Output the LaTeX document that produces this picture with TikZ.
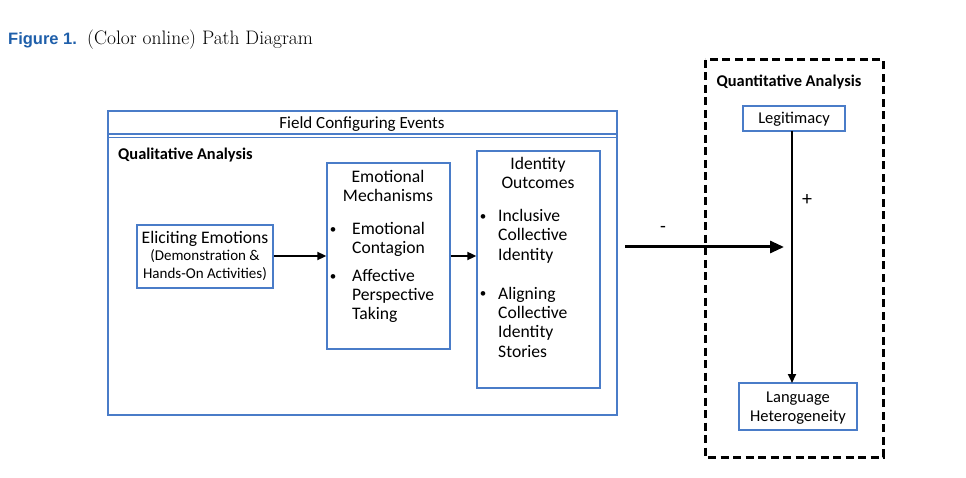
\documentclass[tikz,border=0pt]{standalone}
\usepackage{fontspec}
\setmainfont{Carlito}
\newfontfamily\headsans{Liberation Sans}
\newfontfamily\capserif{Latin Modern Roman}
\usetikzlibrary{arrows.meta}
\definecolor{boxblue}{HTML}{4A7CC8}
\definecolor{figblue}{HTML}{1F5FAA}
\tikzset{
  bbox/.style={draw=boxblue,line width=1.4pt,inner sep=0pt},
  txt/.style={inner sep=0pt,font=\fontsize{17.6}{19}\selectfont},
  small/.style={inner sep=0pt,font=\fontsize{15}{17}\selectfont},
  bld/.style={inner sep=0pt,font=\fontsize{16.4}{19}\selectfont\bfseries},
  bul/.style={inner sep=0pt,font=\fontsize{13}{15}\selectfont},
  arr/.style={line width=2pt,-{Triangle[length=9pt,width=8pt]}},
  bigarr/.style={line width=3pt,-{Triangle[length=14pt,width=12pt]}},
}
\begin{document}
\begin{tikzpicture}[x=1pt,y=-1pt]
\useasboundingbox (0,0) rectangle (966,478);
% title
\node[inner sep=0pt,anchor=base west,font=\fontsize{16.5}{19}\headsans\bfseries,text=figblue] (fig) at (8,45) {Figure 1.};
\node[inner sep=0pt,anchor=base west,font=\fontsize{19.5}{21}\capserif] (cap) at (87,45) {(Color online) Path Diagram};
% outer box
\draw[draw=boxblue,line width=1.4pt] (108,111) rectangle (617,415);
\draw[draw=boxblue,line width=1.2pt] (108,134) -- (617,134);
\draw[draw=boxblue,line width=1.2pt] (108,137.5) -- (617,137.5);
\node[txt,anchor=base,font=\fontsize{17}{19}\selectfont] (fce) at (362,129) {Field Configuring Events};
\node[bld,anchor=base west] (qual) at (118,160) {Qualitative Analysis};
% eliciting
\node[bbox,minimum width=136pt,minimum height=63pt] (elic) at (205,256.5) {};
\node[txt,anchor=base] (e1) at (205,244) {Eliciting Emotions};
\node[small,anchor=base] (e2) at (205,260.5) {(Demonstration \&};
\node[small,anchor=base] (e3) at (205,278.5) {Hands-On Activities)};
% emotional mechanisms
\node[bbox,minimum width=123pt,minimum height=186pt] (emo) at (388.5,256) {};
\node[txt,anchor=base] (m1) at (388,182.5) {Emotional};
\node[txt,anchor=base] (m2) at (388,202) {Mechanisms};
\node[bul,anchor=base] (mb1) at (333,234) {\textbullet};
\node[txt,anchor=base west] (m3) at (352,235) {Emotional};
\node[txt,anchor=base west] (m4) at (352,254) {Contagion};
\node[bul,anchor=base] (mb2) at (333,280) {\textbullet};
\node[txt,anchor=base west] (m5) at (352,281) {Affective};
\node[txt,anchor=base west] (m6) at (352,300.5) {Perspective};
\node[txt,anchor=base west] (m7) at (352,319) {Taking};
% identity outcomes
\node[bbox,minimum width=123pt,minimum height=237pt] (ido) at (538.5,269.5) {};
\node[txt,anchor=base] (i1) at (538,169.5) {Identity};
\node[txt,anchor=base] (i2) at (538,189) {Outcomes};
\node[bul,anchor=base] (ib1) at (483,221) {\textbullet};
\node[txt,anchor=base west] (i3) at (498,222) {Inclusive};
\node[txt,anchor=base west] (i4) at (498,241) {Collective};
\node[txt,anchor=base west] (i5) at (498,260.5) {Identity};
\node[bul,anchor=base] (ib2) at (483,298) {\textbullet};
\node[txt,anchor=base west] (i6) at (498,299) {Aligning};
\node[txt,anchor=base west] (i7) at (498,318) {Collective};
\node[txt,anchor=base west] (i8) at (498,337.5) {Identity};
\node[txt,anchor=base west] (i9) at (498,357) {Stories};
% arrows inside
\draw[arr] (elic.east |- 0,256) -- (emo.west |- 0,256);
\draw[arr] (emo.east |- 0,256) -- (ido.west |- 0,256);
% quantitative
\draw[line width=3pt,dash pattern=on 8pt off 4.5pt] (705,60) rectangle (883,457);
\node[bld,anchor=base] (quan) at (789,87) {Quantitative Analysis};
\node[bbox,minimum width=102pt,minimum height=25pt] (legit) at (794,118.5) {};
\node[txt,anchor=base,font=\fontsize{16.5}{19}\selectfont] (legt) at (794,123.5) {Legitimacy};
\node[bbox,minimum width=118pt,minimum height=47pt] (lang) at (798,406.5) {};
\node[txt,anchor=base,font=\fontsize{16.5}{19}\selectfont] (l1) at (798,402) {Language};
\node[txt,anchor=base,font=\fontsize{16.5}{19}\selectfont] (l2) at (798,421) {Heterogeneity};
\coordinate (vtop) at (792,131);
\coordinate (vbot) at (792,383);
\draw[line width=2pt,-{Triangle[length=9pt,width=8pt]}] (vtop) -- (vbot);
\node[txt,anchor=mid,font=\fontsize{20}{20}\selectfont] (plus) at (807,203) {+};
% big arrow
\coordinate (bstart) at (625,247);
\coordinate (bend) at (784,247);
\draw[bigarr] (bstart) -- (bend);
\node[txt,anchor=mid,font=\fontsize{19}{20}\selectfont] (minus) at (663,230) {-};
\end{tikzpicture}
\end{document}
